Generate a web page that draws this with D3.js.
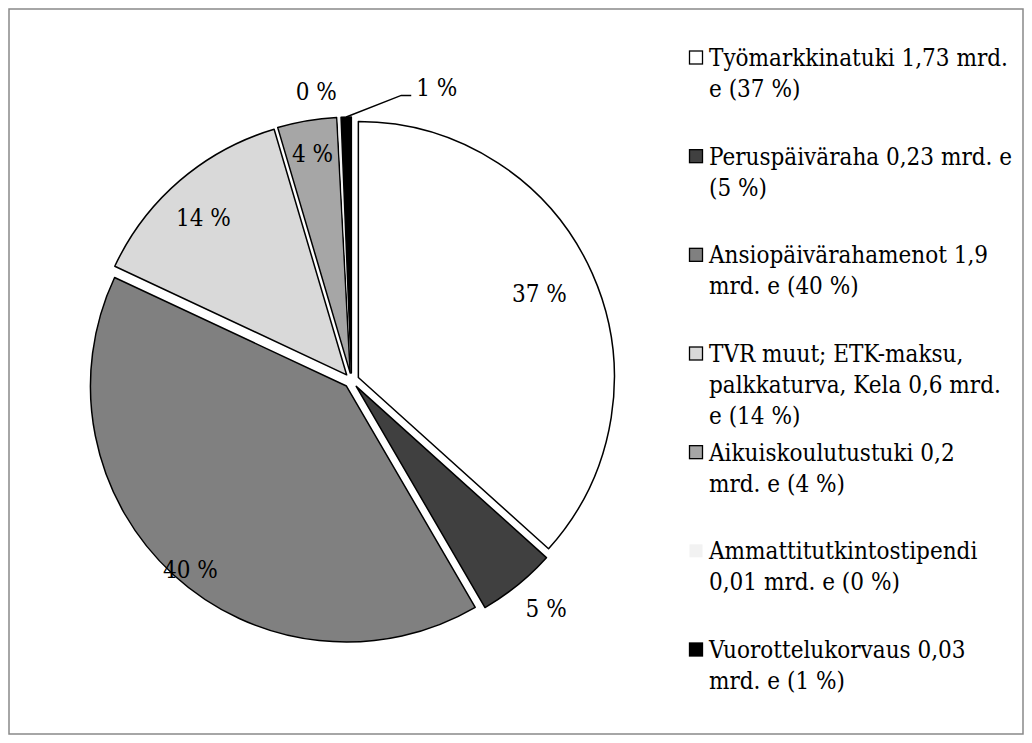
<!DOCTYPE html>
<html>
<head>
<meta charset="utf-8">
<script src="https://cdn.jsdelivr.net/npm/d3@7"></script>
<style>
  body { margin: 0; background: #fff; }
  svg { display: block; }
  text { font-family: "DejaVu Serif Condensed", "DejaVu Serif", serif; font-stretch: condensed; fill: #000; }
</style>
</head>
<body>
<svg id="chart" width="1032" height="743"></svg>
<script>
// data (slice shares in %)
const categories = ['Työmarkkinatuki', 'Peruspäiväraha', 'Ansiopäivärahamenot', 'TVR muut', 'Aikuiskoulutustuki', 'Ammattitutkintostipendi', 'Vuorottelukorvaus']
const shares = [36.67, 4.94, 40.36, 13.46, 3.73, 0.2, 0.64]
const sliceLabels = ['37 %', '5 %', '40 %', '14 %', '4 %', '0 %', '1 %']
const legendLines = [
  ['Työmarkkinatuki 1,73 mrd.', 'e (37 %)'],
  ['Peruspäiväraha 0,23 mrd. e', '(5 %)'],
  ['Ansiopäivärahamenot 1,9', 'mrd. e (40 %)'],
  ['TVR muut; ETK-maksu,', 'palkkaturva, Kela 0,6 mrd.', 'e (14 %)'],
  ['Aikuiskoulutustuki 0,2', 'mrd. e (4 %)'],
  ['Ammattitutkintostipendi', '0,01 mrd. e (0 %)'],
  ['Vuorottelukorvaus 0,03', 'mrd. e (1 %)']
]
const colors = ['#ffffff', '#404040', '#808080', '#d9d9d9', '#a6a6a6', '#f2f2f2', '#000000']

// label placement (radius factor, angle shift in degrees)
const labelRadius = [0.78, 1.14, 0.94, 0.83, 0.87, 1.11, 1.165]
const labelShift = [-1, -1.5, -2, -1.7, 0, -4.4, 17.8]

const svg = d3.select('#chart')
const fontSize = 24

svg.append('rect')
  .attr('x', 9).attr('y', 9)
  .attr('width', 1014).attr('height', 725)
  .attr('fill', '#fff')
  .attr('stroke', '#898989')
  .attr('stroke-width', 1.5)

const cx = 351.5, cy = 380.5, radius = 256, explode = 7.5

const pie = d3.pie().sort(null).value(d => d)
const arcs = pie(shares)
const arc = d3.arc().innerRadius(0).outerRadius(radius)

const g = svg.append('g').attr('transform', `translate(${cx},${cy})`)

const polar = (a, r) => [Math.sin(a) * r, -Math.cos(a) * r]

const slices = g.selectAll('g.slice')
  .data(arcs)
  .enter()
  .append('g')
  .attr('class', 'slice')
  .attr('transform', d => {
    const [x, y] = polar((d.startAngle + d.endAngle) / 2, explode)
    return `translate(${x},${y})`
  })

slices.append('path')
  .attr('d', arc)
  .attr('fill', (d, i) => colors[i])
  .attr('stroke', (d, i) => i === 5 ? 'none' : '#000')
  .attr('stroke-width', 1.5)
  .attr('stroke-linejoin', 'round')

slices.append('text')
  .attr('class', 'plabel')
  .attr('x', (d, i) => polar((d.startAngle + d.endAngle) / 2 + labelShift[i] * Math.PI / 180, radius * labelRadius[i])[0])
  .attr('y', (d, i) => polar((d.startAngle + d.endAngle) / 2 + labelShift[i] * Math.PI / 180, radius * labelRadius[i])[1])
  .attr('dy', '0.36em')
  .attr('text-anchor', 'middle')
  .attr('font-size', fontSize)
  .text((d, i) => sliceLabels[i])

// leader line for the small black slice
slices.filter((d, i) => i === 6).each(function (d) {
  const sel = d3.select(this)
  const box = sel.select('text').node().getBBox()
  const mid = (d.startAngle + d.endAngle) / 2
  const [x0, y0] = polar(mid, radius)
  const ly = box.y + box.height / 2 + 7.5
  sel.append('polyline')
    .attr('points', [[x0, y0], [box.x - 15, ly], [box.x - 5, ly]].map(p => p.join(',')).join(' '))
    .attr('fill', 'none')
    .attr('stroke', '#000')
    .attr('stroke-width', 1.5)
})

// legend
const legendY = d3.scaleLinear().domain([0, categories.length - 1]).range([57.5, 649.5])
const lineGap = 31

const legend = svg.append('g').selectAll('g')
  .data(categories)
  .enter()
  .append('g')
  .attr('transform', (d, i) => `translate(0,${legendY(i)})`)

legend.append('rect')
  .attr('x', 689.5).attr('y', -6.5)
  .attr('width', 13).attr('height', 13)
  .attr('fill', (d, i) => colors[i])
  .attr('stroke', (d, i) => i === 5 ? 'none' : '#000')
  .attr('stroke-width', 1.3)

legend.append('text')
  .attr('x', 709)
  .attr('y', 0)
  .attr('font-size', fontSize)
  .selectAll('tspan')
  .data((d, i) => legendLines[i])
  .enter()
  .append('tspan')
  .attr('x', 709)
  .attr('y', (d, j) => 8.5 + j * lineGap)
  .text(d => d)
</script>
</body>
</html>
